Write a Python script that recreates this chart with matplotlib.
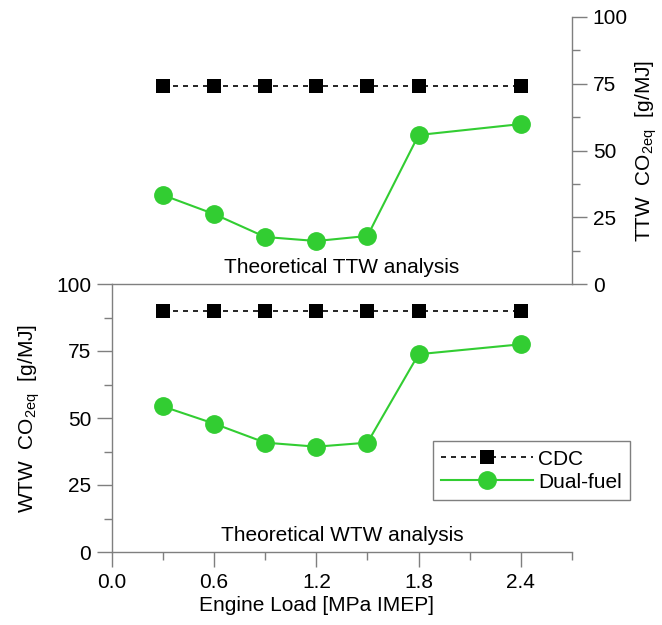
import matplotlib
matplotlib.use('Agg')
import matplotlib.pyplot as plt
from matplotlib.ticker import FixedLocator

plt.rcParams['font.family'] = ['Liberation Sans', 'DejaVu Sans']
plt.rcParams['mathtext.fontset'] = 'custom'
plt.rcParams['mathtext.rm'] = 'Liberation Sans'
plt.rcParams['mathtext.it'] = 'Liberation Sans'
plt.rcParams['font.size'] = 15

# engine load [MPa IMEP]
load = [0.3, 0.6, 0.9, 1.2, 1.5, 1.8, 2.4]

# tank-to-wheel CO2eq [g/MJ]
ttw_cdc = [74, 74, 74, 74, 74, 74, 74]
ttw_dual = [33.3, 26.2, 17.6, 16.1, 18.0, 55.8, 59.9]

# well-to-wheel CO2eq [g/MJ]
wtw_cdc = [90, 90, 90, 90, 90, 90, 90]
wtw_dual = [54.3, 47.9, 40.8, 39.3, 40.8, 73.8, 77.5]

x_major = [0.0, 0.6, 1.2, 1.8, 2.4]
x_minor = [0.3, 0.9, 1.5, 2.1, 2.7]
y_major = [0, 25, 50, 75, 100]
y_minor = [12.5, 37.5, 62.5, 87.5]

grey = '#7f7f7f'
green = '#32cd32'

fig = plt.figure(figsize=(6.62, 6.25), dpi=100)
ax_top = fig.add_axes([0.169, 0.5456, 0.695, 0.4272])
ax_bot = fig.add_axes([0.169, 0.1168, 0.695, 0.4288])


def draw_series(ax, cdc, dual):
    ax.plot(load, cdc, color='black', linestyle=(0, (3, 3)), linewidth=1.2,
            marker='s', markersize=9.5, markeredgewidth=0, label='CDC', zorder=3)
    ax.plot(load, dual, color=green, linewidth=1.5,
            marker='o', markersize=12.5, label='Dual-fuel', zorder=3)
    ax.set_xlim(0, 2.7)
    ax.set_ylim(0, 100)
    ax.yaxis.set_major_locator(FixedLocator(y_major))
    ax.yaxis.set_minor_locator(FixedLocator(y_minor))
    ax.set_facecolor('none')
    for sp in ax.spines.values():
        sp.set_color(grey)
        sp.set_linewidth(1)
    ax.tick_params(which='both', direction='out', color=grey, width=1)
    ax.tick_params(which='major', length=10.5, pad=4.5)
    ax.tick_params(which='minor', length=5.5)


# top panel: TTW, y-axis on the right
draw_series(ax_top, ttw_cdc, ttw_dual)
ax_top.spines['left'].set_visible(False)
ax_top.spines['top'].set_visible(False)
ax_top.spines['bottom'].set_visible(False)
ax_top.tick_params(axis='x', which='both', bottom=False, labelbottom=False)
ax_top.yaxis.tick_right()
ax_top.yaxis.set_label_position('right')
ax_top.set_ylabel('TTW  CO$_{\\mathrm{2eq}}$  [g/MJ]', rotation=90, labelpad=4)
ax_top.text(0.5, 0.025, 'Theoretical TTW analysis', transform=ax_top.transAxes,
            ha='center', va='bottom')

# bottom panel: WTW
draw_series(ax_bot, wtw_cdc, wtw_dual)
ax_bot.spines['right'].set_visible(False)
ax_bot.xaxis.set_major_locator(FixedLocator(x_major))
ax_bot.xaxis.set_minor_locator(FixedLocator(x_minor))
ax_bot.set_xticklabels(['%.1f' % v for v in x_major])
ax_bot.tick_params(top=False, which='both')
ax_bot.set_ylabel('WTW  CO$_{\\mathrm{2eq}}$  [g/MJ]', labelpad=10)
ax_bot.set_xlabel('Engine Load [MPa IMEP]')
ax_bot.xaxis.set_label_coords(1.2 / 2.7, -0.165)
ax_bot.text(0.5, 0.025, 'Theoretical WTW analysis', transform=ax_bot.transAxes,
            ha='center', va='bottom')

leg = ax_bot.legend(loc='upper left', bbox_to_anchor=(0.654, 0.294),
                    bbox_transform=fig.transFigure, borderaxespad=0,
                    handlelength=4.4, handletextpad=0.25, labelspacing=0.2,
                    borderpad=0.4, fancybox=False, framealpha=1)
leg.get_frame().set_edgecolor(grey)
leg.get_frame().set_linewidth(1)

fig.savefig('out.png', dpi=100)
